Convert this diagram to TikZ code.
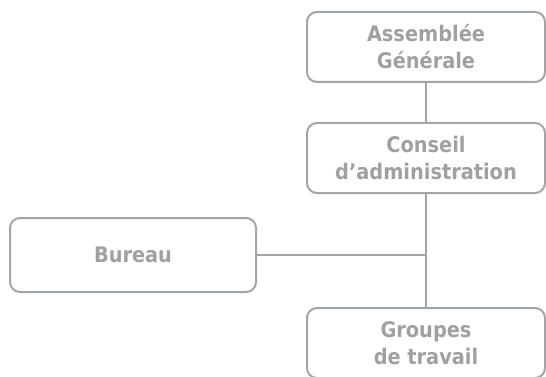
\documentclass[tikz,border=0pt]{standalone}
\usepackage{fontspec}
\setmainfont{DejaVu Sans Condensed}
\usetikzlibrary{positioning}
\definecolor{framegray}{HTML}{A2A5A8}
\definecolor{labelgray}{HTML}{9EA1A4}

\begin{document}
\begin{tikzpicture}[x=1pt, y=-1pt,
      every node/.style = {shape=rectangle, rounded corners=10pt,
        draw=framegray, line width=2pt, align=center,
        minimum width=238pt, minimum height=70pt,
        text=labelgray, font=\fontsize{21.5}{27}\selectfont\bfseries}]
  \useasboundingbox (0,0) rectangle (546,377);
  \node (ag) at (426,47) {Assemblée\\Générale};
  \node (ca) at (426,158) {Conseil\\d’administration};
  \node[minimum width=246pt, minimum height=74pt] (bureau) at (133,255) {Bureau};
  \node (gt) at (426,343) {Groupes\\de travail};
  \coordinate (joint) at (bureau.east -| ca.south);
  \draw[framegray, line width=2pt] (ag) -- (ca)
    (ca) -- (gt)
    (bureau) -- (joint);
\end{tikzpicture}
\end{document}
